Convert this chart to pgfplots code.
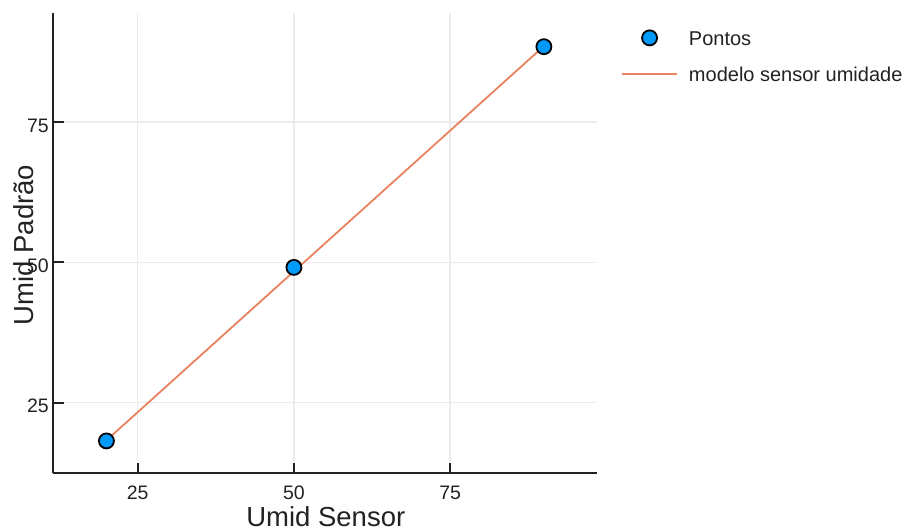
\documentclass[border=0pt]{standalone}
\usepackage{pgfplots}
\pgfplotsset{compat=1.18}
\usepackage{fontspec}
\setmainfont{Liberation Sans}
\definecolor{ptblue}{RGB}{0,154,250}
\definecolor{lineor}{RGB}{232,130,95}
\definecolor{gridc}{RGB}{236,236,236}
\definecolor{axc}{RGB}{34,34,34}
\begin{document}
\begin{tikzpicture}[x=1pt,y=1pt]
\useasboundingbox (0,0) rectangle (911,532);
\begin{axis}[
  at={(53.5pt,58.5pt)}, anchor=south west,
  scale only axis, width=543.5pt, height=460.5pt,
  xmin=11.53, xmax=98.5, ymin=12.4, ymax=94.4,
  axis x line*=bottom, axis y line*=left,
  axis line style={line width=2pt, draw=axc, -},
  xtick={25,50,75}, ytick={25,50,75},
  tick align=inside, major tick length=10pt,
  tick style={line width=2pt, draw=axc},
  grid=major, major grid style={line width=1.5pt, draw=gridc},
  /pgf/number format/assume math mode=true,
  tick label style={font=\fontsize{19.5}{23}\selectfont, text=axc},
  xticklabel style={inner sep=0pt, anchor=north, yshift=-12pt},
  yticklabel style={inner sep=0pt, anchor=east, xshift=-4.5pt, yshift=-3.5pt},
  xlabel={Umid Sensor}, ylabel={Umid Padrão},
  label style={font=\fontsize{27.5}{33}\selectfont, text=axc},
  xlabel style={at={(axis description cs:0.501,-0.116)}, anchor=base, inner sep=0pt},
  ylabel style={at={(axis description cs:-0.0377,0.496)}, anchor=base, inner sep=0pt},
  legend style={draw=none, fill=none, at={(axis description cs:1.0386,0.969)}, anchor=north west,
    font=\fontsize{20}{24}\selectfont, text=axc, row sep=20.5pt,
    nodes={inner sep=0pt, text height=14.5pt, text depth=0pt}},
  legend cell align=left,
  clip=false,
]
\addplot[only marks, mark=*, mark size=7.5pt, mark options={fill=ptblue, draw=black, line width=1.8pt},
  legend image code/.code={\draw[fill=ptblue, draw=black, line width=1.8pt] (27.5pt,0pt) circle (7.5pt);}]
  coordinates {(20,18.2)(50,49.1)(90,88.4)};
\addlegendentry{\hspace{11pt}Pontos}
\addplot[lineor, line width=1.8pt,
  legend image code/.code={\draw[lineor, line width=1.8pt] (0pt,0pt) -- (55pt,0pt);}]
  coordinates {(20,18.3)(90,88.5)};
\addlegendentry{\hspace{11pt}modelo sensor umidade}
\end{axis}
\end{tikzpicture}
\end{document}
